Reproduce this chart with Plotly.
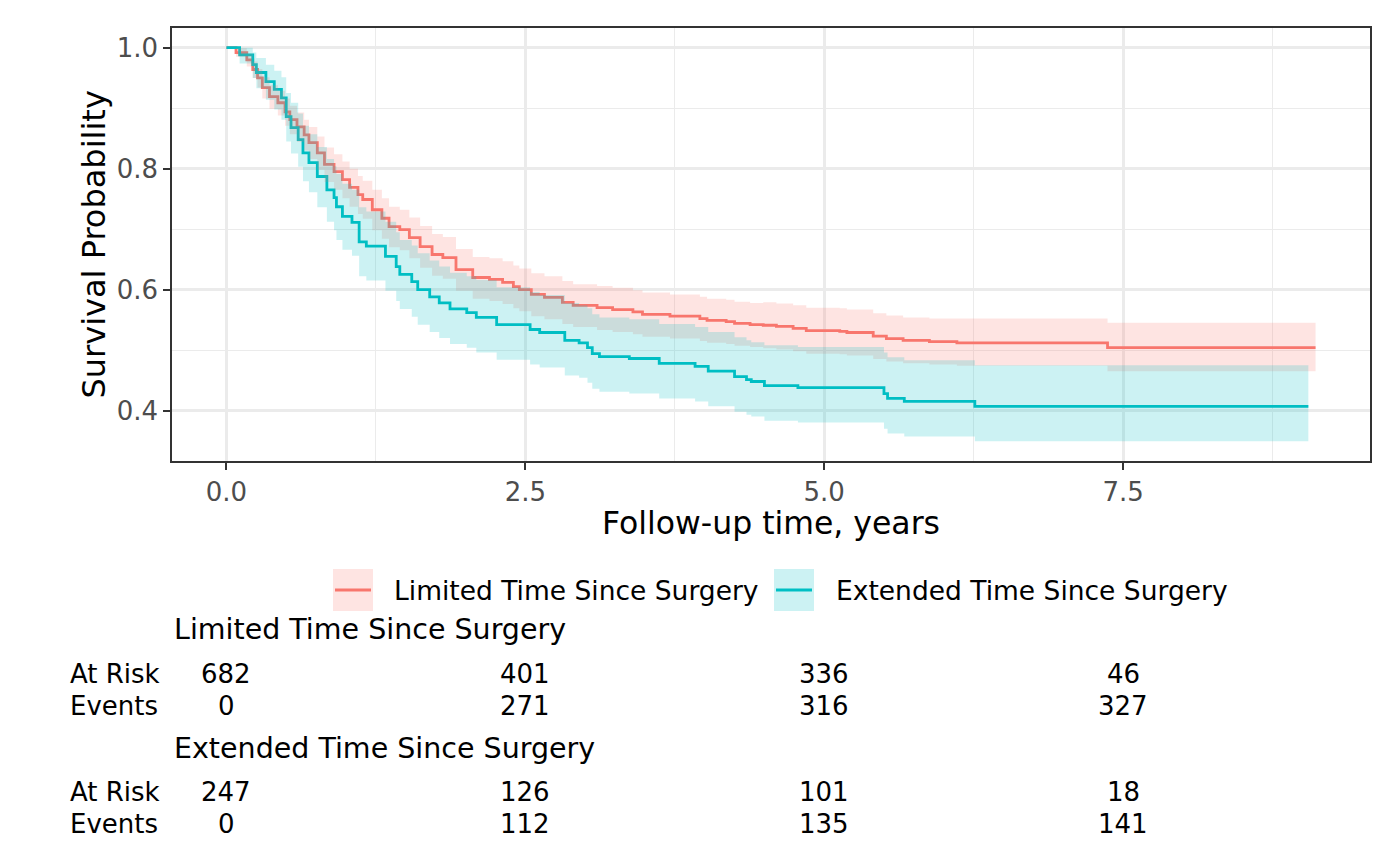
import plotly.graph_objects as go

# ---------------- data ----------------
lim_t = [0, 0.08, 0.17, 0.22, 0.26, 0.30, 0.36, 0.43, 0.49, 0.53, 0.59, 0.65, 0.69, 0.76, 0.82, 0.90,
         0.97, 1.03, 1.10, 1.14, 1.22, 1.30, 1.36, 1.45, 1.53, 1.62, 1.72, 1.81, 1.92, 2.06, 2.20, 2.31,
         2.40, 2.45, 2.55, 2.66, 2.81, 2.90, 3.10, 3.23, 3.40, 3.48, 3.71, 3.96, 4.02, 4.18, 4.25, 4.38,
         4.49, 4.60, 4.74, 4.85, 5.13, 5.19, 5.41, 5.52, 5.66, 5.88, 6.11, 7.37, 9.11]
lim_s = [1.000, 0.992, 0.980, 0.964, 0.950, 0.934, 0.919, 0.909, 0.894, 0.881, 0.869, 0.856, 0.843, 0.826,
         0.807, 0.795, 0.782, 0.769, 0.757, 0.749, 0.732, 0.718, 0.704, 0.699, 0.686, 0.671, 0.658, 0.653,
         0.633, 0.620, 0.617, 0.612, 0.605, 0.600, 0.592, 0.587, 0.579, 0.574, 0.570, 0.567, 0.563, 0.559,
         0.556, 0.552, 0.549, 0.547, 0.544, 0.542, 0.541, 0.539, 0.536, 0.532, 0.531, 0.529, 0.523, 0.519,
         0.516, 0.514, 0.512, 0.504, 0.504]
lim_hi = [1.000, 0.999, 0.990, 0.977, 0.965, 0.951, 0.938, 0.929, 0.916, 0.904, 0.893, 0.881, 0.869, 0.853,
          0.835, 0.824, 0.812, 0.800, 0.788, 0.780, 0.765, 0.751, 0.737, 0.732, 0.719, 0.705, 0.692, 0.687,
          0.667, 0.654, 0.652, 0.647, 0.640, 0.635, 0.627, 0.622, 0.614, 0.609, 0.606, 0.603, 0.599, 0.595,
          0.592, 0.588, 0.585, 0.583, 0.580, 0.578, 0.579, 0.577, 0.574, 0.570, 0.569, 0.567, 0.561, 0.557,
          0.554, 0.552, 0.552, 0.545, 0.545]
lim_lo = [1.000, 0.985, 0.969, 0.950, 0.934, 0.916, 0.899, 0.888, 0.871, 0.857, 0.844, 0.830, 0.816, 0.798,
          0.778, 0.765, 0.751, 0.737, 0.725, 0.717, 0.698, 0.684, 0.670, 0.665, 0.652, 0.636, 0.623, 0.618,
          0.598, 0.585, 0.581, 0.576, 0.569, 0.564, 0.556, 0.551, 0.543, 0.538, 0.533, 0.530, 0.526, 0.522,
          0.519, 0.515, 0.512, 0.510, 0.507, 0.505, 0.503, 0.501, 0.498, 0.494, 0.493, 0.491, 0.485, 0.481,
          0.478, 0.476, 0.474, 0.465, 0.465]

ext_t = [0, 0.11, 0.22, 0.25, 0.33, 0.40, 0.46, 0.50, 0.54, 0.60, 0.64, 0.69, 0.76, 0.84, 0.90, 0.92,
         0.97, 1.05, 1.11, 1.17, 1.33, 1.42, 1.45, 1.55, 1.60, 1.70, 1.78, 1.87, 2.01, 2.09, 2.26, 2.54,
         2.62, 2.83, 2.95, 3.02, 3.06, 3.12, 3.37, 3.62, 3.92, 4.03, 4.25, 4.35, 4.39, 4.50, 4.78, 5.50,
         5.53, 5.67, 6.26, 9.05]
ext_s = [1.000, 0.988, 0.972, 0.959, 0.944, 0.931, 0.917, 0.886, 0.868, 0.848, 0.826, 0.810, 0.787, 0.765,
         0.752, 0.737, 0.721, 0.711, 0.679, 0.672, 0.655, 0.638, 0.625, 0.613, 0.600, 0.588, 0.578, 0.568,
         0.562, 0.554, 0.542, 0.534, 0.529, 0.516, 0.512, 0.504, 0.494, 0.489, 0.486, 0.478, 0.473, 0.465,
         0.456, 0.451, 0.448, 0.441, 0.438, 0.428, 0.420, 0.415, 0.407, 0.407]
ext_hi = [1.000, 1.000, 0.992, 0.983, 0.972, 0.962, 0.951, 0.925, 0.909, 0.891, 0.871, 0.857, 0.836, 0.816,
          0.804, 0.791, 0.775, 0.765, 0.736, 0.729, 0.712, 0.695, 0.682, 0.673, 0.660, 0.648, 0.638, 0.628,
          0.622, 0.616, 0.604, 0.596, 0.591, 0.578, 0.574, 0.569, 0.559, 0.554, 0.551, 0.543, 0.538, 0.530,
          0.521, 0.516, 0.513, 0.508, 0.505, 0.496, 0.488, 0.483, 0.475, 0.475]
ext_lo = [1.000, 0.974, 0.950, 0.933, 0.914, 0.898, 0.881, 0.845, 0.825, 0.803, 0.779, 0.761, 0.736, 0.712,
          0.698, 0.682, 0.666, 0.656, 0.622, 0.615, 0.598, 0.581, 0.568, 0.555, 0.542, 0.530, 0.520, 0.510,
          0.504, 0.496, 0.484, 0.476, 0.471, 0.458, 0.454, 0.446, 0.436, 0.431, 0.428, 0.420, 0.415, 0.407,
          0.398, 0.393, 0.390, 0.383, 0.380, 0.370, 0.362, 0.357, 0.349, 0.349]

groups = ["Limited Time Since Surgery", "Extended Time Since Surgery"]
risk_times = [0, 2.5, 5, 7.5]
lim_at_risk = [682, 401, 336, 46]
lim_events = [0, 271, 316, 327]
ext_at_risk = [247, 126, 101, 18]
ext_events = [0, 112, 135, 141]

x_ticks = [0, 2.5, 5.0, 7.5]
x_minor = [1.25, 3.75, 6.25, 8.75]
y_ticks = [0.4, 0.6, 0.8, 1.0]
y_minor = [0.5, 0.7, 0.9]

# ---------------- style ----------------
RED = "#F8766D"
TEAL = "#00BFC4"
RED_F = "rgba(248,118,109,0.2)"
TEAL_F = "rgba(0,191,196,0.2)"
FONT = "DejaVu Sans"
OFF = 8                       # default page body margin
W, H = 1400 - OFF, 865 - OFF
ML, MR, MT, MB = 172 - OFF, 30, 28 - OFF, 404
PW, PH = W - ML - MR, H - MT - MB


def px2paper_x(px):           # px measured on the 1400x865 page
    return (px - OFF - ML) / PW


def py2paper_y(py):
    return (H - MB - (py - OFF)) / PH


fig = go.Figure()

# survival lines
for t, s, c, name in [(lim_t, lim_s, RED, groups[0]), (ext_t, ext_s, TEAL, groups[1])]:
    fig.add_trace(go.Scatter(x=t, y=s, mode="lines", line=dict(color=c, width=2.8, shape="hv"),
                             name=name, showlegend=False, hoverinfo="skip"))

# confidence bands (drawn on top, like ggsurvfit)
for t, lo, hi, f in [(lim_t, lim_lo, lim_hi, RED_F), (ext_t, ext_lo, ext_hi, TEAL_F)]:
    fig.add_trace(go.Scatter(x=t, y=hi, mode="lines", line=dict(width=0, shape="hv"),
                             showlegend=False, hoverinfo="skip"))
    fig.add_trace(go.Scatter(x=t, y=lo, mode="lines", line=dict(width=0, shape="hv"),
                             fill="tonexty", fillcolor=f, showlegend=False, hoverinfo="skip"))

axis_common = dict(
    showline=True, mirror=True, linecolor="#333333", linewidth=1.5,
    ticks="outside", ticklen=7, tickwidth=1.5, tickcolor="#333333",
    tickfont=dict(family=FONT, size=26, color="#4D4D4D"),
    showgrid=True, gridcolor="#EBEBEB", gridwidth=2.5, zeroline=False,
    tickformat=".1f",
)

fig.update_layout(
    width=W, height=H,
    margin=dict(l=ML, r=MR, t=MT, b=MB),
    paper_bgcolor="white", plot_bgcolor="white",
    font=dict(family=FONT, color="black"),
    showlegend=False,
    xaxis=dict(range=[-0.4555, 9.5655], tickmode="array", tickvals=x_ticks,
               minor=dict(tickvals=x_minor, showgrid=True, gridcolor="#EBEBEB", gridwidth=1.3, ticks=""),
               **axis_common),
    yaxis=dict(range=[0.3165, 1.0326], tickmode="array", tickvals=y_ticks,
               minor=dict(tickvals=y_minor, showgrid=True, gridcolor="#EBEBEB", gridwidth=1.3, ticks=""),
               **axis_common),
)

ann = []
# axis titles
ann.append(dict(text="Follow-up time, years", xref="paper", yref="paper", x=0.5, y=py2paper_y(523),
                xanchor="center", yanchor="middle", showarrow=False, font=dict(size=31.5, family=FONT)))
ann.append(dict(text="Survival Probability", xref="paper", yref="paper", x=px2paper_x(93), y=0.5,
                xanchor="center", yanchor="middle", textangle=-90, showarrow=False,
                font=dict(size=32, family=FONT)))

# legend (manual keys)
shapes = []
for (x0, x1, tx), c, f, name in [((333, 373, 392), RED, RED_F, groups[0]), ((774, 814, 834), TEAL, TEAL_F, groups[1])]:
    shapes.append(dict(type="rect", xref="paper", yref="paper", x0=px2paper_x(x0), x1=px2paper_x(x1),
                       y0=py2paper_y(611), y1=py2paper_y(569), fillcolor=f, line=dict(width=0)))
    shapes.append(dict(type="line", xref="paper", yref="paper", x0=px2paper_x(x0 + 2), x1=px2paper_x(x1 - 2),
                       y0=py2paper_y(590), y1=py2paper_y(590), line=dict(color=c, width=2.8)))
    ann.append(dict(text=name, xref="paper", yref="paper", x=px2paper_x(tx), y=py2paper_y(590),
                    xanchor="left", yanchor="middle", showarrow=False, font=dict(size=26.5, family=FONT)))

# risk table
blocks = [(groups[0], lim_at_risk, lim_events, 629, 674, 706),
          (groups[1], ext_at_risk, ext_events, 748, 792, 824)]
for name, ar, ev, yh, yr, ye in blocks:
    ann.append(dict(text=name, xref="paper", yref="paper", x=0, y=py2paper_y(yh),
                    xanchor="left", yanchor="middle", showarrow=False, font=dict(size=28.5, family=FONT)))
    for lab, vals, yy in [("At Risk", ar, yr), ("Events", ev, ye)]:
        ann.append(dict(text=lab, xref="paper", yref="paper", x=px2paper_x(68), y=py2paper_y(yy),
                        xanchor="left", yanchor="middle", showarrow=False, font=dict(size=26, family=FONT)))
        for tx, v in zip(risk_times, vals):
            ann.append(dict(text=str(v), xref="x", yref="paper", x=tx, y=py2paper_y(yy),
                            xanchor="center", yanchor="middle", showarrow=False,
                            font=dict(size=26, family=FONT)))

fig.update_layout(annotations=ann, shapes=shapes)
fig.write_html("out.html")
